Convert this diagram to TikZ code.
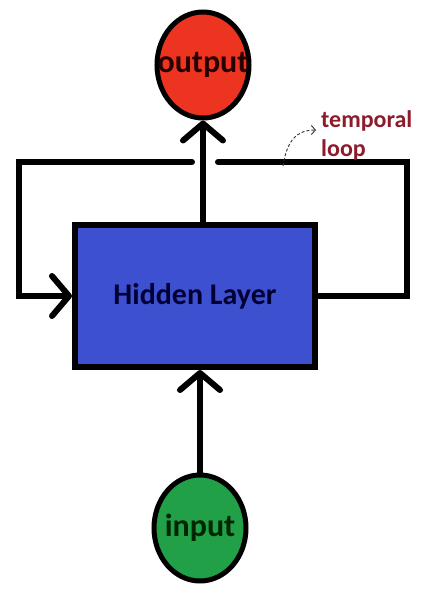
\documentclass[tikz,border=0pt]{standalone}
\usepackage{fontspec}
\setmainfont{Carlito}
\usepackage{tikz}
\usetikzlibrary{shapes.geometric,arrows.meta,positioning,calc}
\usepackage{xcolor}
\definecolor{outred}{RGB}{236,52,32}
\definecolor{hidblue}{RGB}{60,80,208}
\definecolor{ingreen}{RGB}{34,160,72}
\definecolor{loopred}{RGB}{140,28,44}

\begin{document}
\begin{tikzpicture}[
            x=1pt,y=-1pt,
            thick line/.style={line width=6pt,line cap=round,line join=miter},
            barb/.style={-{Straight Barb[length=17pt,width=40pt,round]}},
            unit/.style={ellipse,draw,line width=5pt,minimum width=92pt,minimum height=106pt,inner sep=0pt},
            layer/.style={rectangle,draw,line width=6pt,minimum width=240pt,minimum height=142pt,inner sep=0pt},
            every label/.style={font=\bfseries\fontsize{32}{36}\selectfont}
        ]
            \useasboundingbox (0,0) rectangle (431,595);
            \node[unit,fill=outred,label={[text=black!85!red]center:output}] (output) at (203,65) {};
            \node[layer,fill=hidblue,font=\bfseries\fontsize{30}{34}\selectfont,text=black!80!blue] (hidden) at (195,296) {Hidden Layer};
            \node[unit,fill=ingreen,label={[text=black!85!green]center:input}] (input) at (200,528) {};
            \coordinate (loopR) at (407,162);
            \coordinate (gapR) at (218,162);
            \coordinate (gapL) at (192,162);
            \coordinate (loopL) at (19,162);
            \draw[thick line,barb] (output.south |- hidden.north) -- (output.south);
            \draw[thick line,barb] (input.north) -- (input.north |- hidden.south);
            \draw[thick line] (hidden.east) -- (loopR |- hidden.east) -- (loopR) -- (gapR);
            \draw[thick line,barb] (gapL) -- (loopL) -- (loopL |- hidden.west) -- (hidden.west);
            \node[anchor=north west,align=left,inner sep=0pt,text=loopred,font=\bfseries\fontsize{24}{29}\selectfont] (tloop) at (321,110) {temporal\\loop};
            \coordinate (tstart) at (283,166);
            \draw[line width=0.9pt,densely dashed,black!80,-{Straight Barb[length=4pt,width=9pt]}] (tstart) .. controls (287,140) and (297,130) .. (316,130);
        \end{tikzpicture}
\end{document}
